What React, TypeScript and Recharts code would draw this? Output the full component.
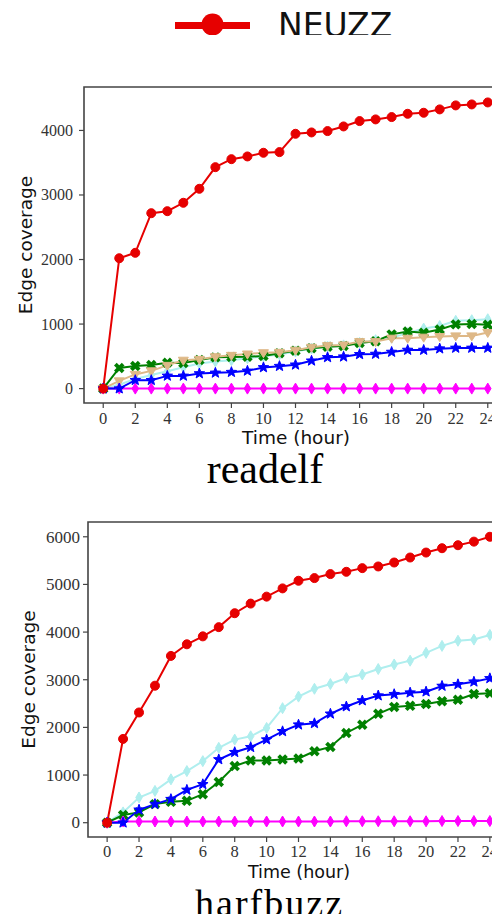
import React from 'react';
import { LineChart, Line, XAxis, YAxis, ReferenceArea } from 'recharts';

// ---------- data ----------
const hours = [0, 1, 2, 3, 4, 5, 6, 7, 8, 9, 10, 11, 12, 13, 14, 15, 16, 17, 18, 19, 20, 21, 22, 23, 24];
const xTicks = [0, 2, 4, 6, 8, 10, 12, 14, 16, 18, 20, 22, 24];
const readelfTicks = [0, 1000, 2000, 3000, 4000];
const harfbuzzTicks = [0, 1000, 2000, 3000, 4000, 5000, 6000];

// readelf
const readelfNeuzz = [0, 2020, 2104, 2718, 2749, 2879, 3096, 3431, 3555, 3597, 3654, 3664, 3948, 3969, 3990, 4062, 4145, 4171, 4207, 4258, 4274, 4326, 4388, 4403, 4434];
const readelfGreen = [0, 320, 350, 365, 400, 395, 442, 484, 490, 494, 505, 547, 588, 625, 650, 660, 708, 734, 840, 885, 865, 915, 995, 1000, 990];
const readelfTan = [0, 120, 220, 275, 360, 440, 453, 494, 515, 536, 556, 562, 595, 640, 666, 677, 728, 728, 781, 781, 797, 806, 817, 817, 870];
const readelfCyan = [0, 60, 150, 210, 270, 330, 390, 420, 440, 470, 500, 530, 575, 620, 650, 670, 710, 750, 790, 860, 930, 970, 1050, 1060, 1075];
const readelfBlue = [0, 0, 130, 130, 197, 197, 234, 244, 255, 275, 328, 348, 369, 431, 484, 494, 531, 536, 567, 598, 598, 619, 630, 630, 630];
const readelfMagenta = [0, 0, 0, 0, 0, 0, 0, 0, 0, 0, 0, 0, 0, 0, 0, 0, 0, 0, 0, 0, 0, 0, 0, 0, 0];

// harfbuzz
const harfbuzzNeuzz = [0, 1758, 2313, 2875, 3500, 3744, 3910, 4104, 4396, 4598, 4744, 4917, 5077, 5133, 5217, 5265, 5342, 5377, 5460, 5565, 5669, 5760, 5823, 5898, 6000];
const harfbuzzCyan = [0, 216, 529, 667, 910, 1083, 1292, 1571, 1744, 1813, 1988, 2404, 2646, 2810, 2910, 3035, 3110, 3225, 3320, 3400, 3565, 3710, 3818, 3843, 3940];
const harfbuzzBlue = [0, 0, 271, 390, 494, 688, 806, 1327, 1479, 1583, 1744, 1917, 2056, 2085, 2285, 2438, 2563, 2667, 2696, 2729, 2750, 2869, 2904, 2958, 3029];
const harfbuzzGreen = [0, 160, 216, 390, 438, 459, 598, 854, 1188, 1306, 1306, 1327, 1348, 1500, 1590, 1883, 2056, 2285, 2430, 2452, 2490, 2550, 2580, 2702, 2716];
const harfbuzzMagenta = [0, 25, 25, 25, 25, 25, 25, 25, 25, 25, 25, 25, 25, 25, 25, 30, 30, 30, 30, 30, 30, 35, 35, 35, 35];

// ---------- styles ----------
type Shape = 'circle' | 'star' | 'x' | 'tri' | 'diamond';
interface SeriesStyle { key: string; color: string; shape: Shape; size: number; width: number; }

const RED = '#e60000';
const styleCyan: SeriesStyle = { key: 'cyan', color: '#afeeee', shape: 'diamond', size: 5, width: 2 };
const styleTan: SeriesStyle = { key: 'tan', color: '#deb887', shape: 'tri', size: 5, width: 2 };
const styleGreen: SeriesStyle = { key: 'green', color: '#008000', shape: 'x', size: 5.5, width: 2 };
const styleMagenta: SeriesStyle = { key: 'magenta', color: '#ff00ff', shape: 'diamond', size: 5, width: 2 };
const styleBlue: SeriesStyle = { key: 'blue', color: '#0000ff', shape: 'star', size: 5.5, width: 2 };
const styleRed: SeriesStyle = { key: 'neuzz', color: RED, shape: 'circle', size: 4.5, width: 2 };

function starPoints(cx: number, cy: number, r: number) {
  const pts: string[] = [];
  for (let i = 0; i < 10; i++) {
    const rr = i % 2 === 0 ? r : r * 0.42;
    const a = -Math.PI / 2 + (i * Math.PI) / 5;
    pts.push(`${cx + rr * Math.cos(a)},${cy + rr * Math.sin(a)}`);
  }
  return pts.join(' ');
}

function Marker({ cx, cy, s }: { cx: number; cy: number; s: SeriesStyle }) {
  if (cx == null || cy == null || isNaN(cx) || isNaN(cy)) return null;
  const c = s.color;
  const r = s.size;
  switch (s.shape) {
    case 'circle':
      return <circle cx={cx} cy={cy} r={r} fill={c} stroke={c} strokeWidth={1} />;
    case 'star':
      return <polygon points={starPoints(cx, cy, r)} fill={c} stroke={c} strokeWidth={1} />;
    case 'x':
      return (
        <g transform={`translate(${cx},${cy}) rotate(45)`} fill={c}>
          <rect x={-r} y={-1.9} width={2 * r} height={3.8} />
          <rect x={-1.9} y={-r} width={3.8} height={2 * r} />
        </g>
      );
    case 'tri':
      return <polygon points={`${cx - r},${cy - r * 0.6} ${cx + r},${cy - r * 0.6} ${cx},${cy + r}`} fill={c} stroke={c} strokeWidth={1} />;
    case 'diamond':
      return <polygon points={`${cx},${cy - r * 1.1} ${cx + r * 0.65},${cy} ${cx},${cy + r * 1.1} ${cx - r * 0.65},${cy}`} fill={c} stroke={c} strokeWidth={1} />;
  }
  return null;
}

function buildRows(cols: Record<string, number[]>) {
  return hours.map((h, i) => {
    const row: Record<string, number> = { h };
    Object.keys(cols).forEach((k) => { row[k] = cols[k][i]; });
    return row;
  });
}

const readelfRows = buildRows({
  neuzz: readelfNeuzz, green: readelfGreen, tan: readelfTan, cyan: readelfCyan, blue: readelfBlue, magenta: readelfMagenta,
});
const harfbuzzRows = buildRows({
  neuzz: harfbuzzNeuzz, green: harfbuzzGreen, cyan: harfbuzzCyan, blue: harfbuzzBlue, magenta: harfbuzzMagenta,
});

const readelfSeries = [styleCyan, styleGreen, styleTan, styleMagenta, styleBlue, styleRed];
const harfbuzzSeries = [styleCyan, styleGreen, styleMagenta, styleBlue, styleRed];

const FRAME = '#444';
const SERIF = 'Liberation Serif';
const SANS = 'DejaVu Sans';

function makeTick(fontSize: number, isX: boolean) {
  return (props: any) => {
    const { x, y, payload, textAnchor } = props;
    return (
      <text x={x} y={y} dy={isX ? '0.71em' : '0.34em'} textAnchor={isX ? 'middle' : textAnchor || 'end'}
        style={{ fontFamily: SERIF, fontSize }} fill="#333">{payload.value}</text>
    );
  };
}

interface PanelProps {
  rows: Record<string, number>[];
  series: SeriesStyle[];
  yDomain: [number, number];
  yTicks: number[];
  width: number;
  height: number;
  top: number;
  marginTop: number;
  marginRight: number;
  yAxisWidth: number;
  yTickMargin: number;
  xTickMargin: number;
  tickFont: number;
}

function Panel(p: PanelProps) {
  const xDomain: [number, number] = [-1.2, 25.2];
  return (
    <div style={{ position: 'absolute', left: 0, top: p.top }}>
      <LineChart width={p.width} height={p.height} data={p.rows}
        margin={{ top: p.marginTop, right: p.marginRight, bottom: 0, left: 0 }}>
        <XAxis dataKey="h" type="number" domain={xDomain} ticks={xTicks} allowDataOverflow
          height={30} tickSize={5} tickMargin={p.xTickMargin} axisLine={false}
          tickLine={{ stroke: FRAME, strokeWidth: 1.2 }}
          tick={makeTick(16.5, true)} interval={0} />
        <YAxis type="number" domain={p.yDomain} ticks={p.yTicks} allowDataOverflow
          width={p.yAxisWidth} tickSize={5} tickMargin={p.yTickMargin} axisLine={false}
          tickLine={{ stroke: FRAME, strokeWidth: 1.2 }}
          tick={makeTick(p.tickFont, false)} interval={0} />
        <ReferenceArea x1={xDomain[0]} x2={xDomain[1]} y1={p.yDomain[0]} y2={p.yDomain[1]}
          fill="none" stroke={FRAME} strokeWidth={1.6} ifOverflow="visible" />
        {p.series.map((s) => (
          <Line key={s.key} dataKey={s.key} type="linear" stroke={s.color} strokeWidth={s.width}
            isAnimationActive={false} activeDot={false}
            dot={(d: any) => <Marker key={`${s.key}-${d.index}`} cx={d.cx} cy={d.cy} s={s} />} />
        ))}
      </LineChart>
    </div>
  );
}

export default function App() {
  return (
    <div style={{ position: 'relative', width: 500, height: 922, margin: -8, overflow: 'hidden', background: '#fff' }}>
      <Panel rows={readelfRows} series={readelfSeries} yDomain={[-223, 4673]} yTicks={readelfTicks}
        width={520} height={433} top={0} marginTop={87} marginRight={13} yAxisWidth={84} yTickMargin={6}
        xTickMargin={4} tickFont={16} />
      <Panel rows={harfbuzzRows} series={harfbuzzSeries} yDomain={[-300, 6310]} yTicks={harfbuzzTicks}
        width={520} height={427} top={440} marginTop={82} marginRight={11} yAxisWidth={88} yTickMargin={3}
        xTickMargin={3} tickFont={17} />
      <svg width={500} height={922} style={{ position: 'absolute', left: 0, top: 0, pointerEvents: 'none' }}>
        <defs>
          <clipPath id="legendClip"><rect x={0} y={0} width={500} height={35} /></clipPath>
        </defs>
        <g clipPath="url(#legendClip)">
          <line x1={175} y1={25.5} x2={250} y2={25.5} stroke={RED} strokeWidth={7} />
          <circle cx={212.5} cy={24.5} r={11} fill={RED} />
          <text x={278} y={37} style={{ fontFamily: SANS, fontSize: 33 }} fill="#111">NEUZZ</text>
        </g>
        <text x={296} y={443.5} textAnchor="middle" style={{ fontFamily: SANS, fontSize: 18.5 }} fill="#111">Time (hour)</text>
        <text x={32} y={245} textAnchor="middle" style={{ fontFamily: SANS, fontSize: 18.5 }} fill="#111"
          transform="rotate(-90, 32, 245)">Edge coverage</text>
        <text x={265} y={483} textAnchor="middle" style={{ fontFamily: SERIF, fontSize: 42 }} fill="#000">readelf</text>
        <text x={299} y={877.5} textAnchor="middle" style={{ fontFamily: SANS, fontSize: 17.5 }} fill="#111">Time (hour)</text>
        <text x={35} y={679.5} textAnchor="middle" style={{ fontFamily: SANS, fontSize: 18.5 }} fill="#111"
          transform="rotate(-90, 35, 679.5)">Edge coverage</text>
        <text x={268.5} y={915.5} textAnchor="middle" textLength={147} lengthAdjust="spacing"
          style={{ fontFamily: SERIF, fontSize: 38 }} fill="#000">harfbuzz</text>
      </svg>
    </div>
  );
}
